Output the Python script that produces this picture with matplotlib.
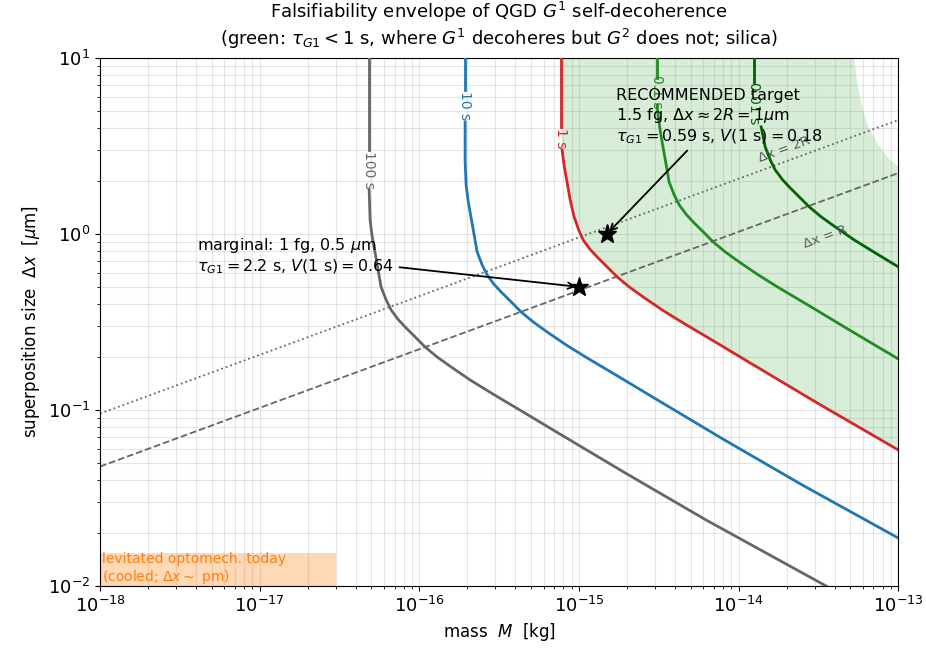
import numpy as np
import matplotlib.pyplot as plt

# tau_G1 contours: mass [kg], dx [um]
# first two points sit above the inline label, the rest below it
tau100_M = [4.85e-17, 4.85e-17, 4.85e-17, 4.92e-17, 5.06e-17, 5.29e-17, 5.52e-17, 5.76e-17,
            6.20e-17, 6.66e-17, 7.37e-17, 8.15e-17, 9.28e-17, 1.087e-16, 1.293e-16, 1.583e-16,
            2.082e-16, 2.82e-16, 4.47e-16, 7.41e-16, 1.949e-15, 6.27e-15, 3.54e-14]
tau100_dx = [10, 3.0, 1.778, 1.201, 0.974, 0.78, 0.624, 0.50, 0.4217, 0.37, 0.3266, 0.296,
             0.2633, 0.228, 0.2, 0.1755, 0.148, 0.1249, 0.0974, 0.074, 0.0439, 0.0237, 0.01]

tau10_M = [1.937e-16, 1.937e-16, 1.937e-16, 1.937e-16, 1.965e-16, 2.022e-16, 2.112e-16, 2.206e-16,
           2.303e-16, 2.475e-16, 2.66e-16, 2.944e-16, 3.255e-16, 3.709e-16, 4.343e-16, 5.17e-16,
           6.32e-16, 8.32e-16, 1.125e-15, 1.787e-15, 2.96e-15, 7.78e-15, 2.504e-14, 1e-13]
tau10_dx = [10, 6.58, 4.33, 2.565, 1.898, 1.54, 1.233, 0.987, 0.79, 0.667, 0.585, 0.516, 0.468,
            0.4163, 0.3605, 0.3162, 0.2774, 0.234, 0.1975, 0.154, 0.117, 0.0693, 0.0375, 0.01874]

tau1_M = [7.73e-16, 7.73e-16, 7.84e-16, 8.08e-16, 8.44e-16, 8.81e-16, 9.33e-16, 9.96e-16,
          1.062e-15, 1.176e-15, 1.30e-15, 1.481e-15, 1.735e-15, 2.064e-15, 2.525e-15, 3.32e-15,
          4.50e-15, 7.14e-15, 1.182e-14, 3.11e-14, 1e-13]
tau1_dx = [10, 4.055, 3.0, 2.434, 1.949, 1.56, 1.249, 1.054, 0.924, 0.816, 0.74, 0.658, 0.57,
           0.5, 0.4385, 0.37, 0.312, 0.2434, 0.185, 0.1096, 0.0593]

tau01_M = [3.09e-15, 3.09e-15, 3.09e-15, 3.13e-15, 3.23e-15, 3.37e-15, 3.52e-15, 3.67e-15,
           3.95e-15, 4.244e-15, 4.70e-15, 5.19e-15, 5.92e-15, 6.93e-15, 8.25e-15, 1.009e-14,
           1.327e-14, 1.796e-14, 2.85e-14, 4.72e-14, 1e-13]
tau01_dx = [10, 7.70, 5.41, 4.745, 3.85, 3.08, 2.466, 1.975, 1.666, 1.461, 1.291, 1.17, 1.04,
            0.901, 0.79, 0.693, 0.585, 0.493, 0.3847, 0.292, 0.195]

tau001_M = [1.253e-14, 1.253e-14, 1.385e-14, 1.468e-14, 1.578e-14, 1.696e-14, 1.877e-14, 2.075e-14,
            2.364e-14, 2.77e-14, 3.294e-14, 4.03e-14, 5.30e-14, 7.18e-14, 1e-13]
tau001_dx = [10, 7.31, 4.055, 3.12, 2.634, 2.31, 2.04, 1.849, 1.644, 1.424, 1.249, 1.096, 0.924,
             0.78, 0.65]

curves = [(tau100_M, tau100_dx), (tau10_M, tau10_dx), (tau1_M, tau1_dx),
          (tau01_M, tau01_dx), (tau001_M, tau001_dx)]
labels = ['100 s', '10 s', '1 s', '0.1 s', '0.01 s']
colors = ['0.4', 'tab:blue', 'tab:red', 'forestgreen', 'darkgreen']
label_dx = [2.31, 5.34, 3.51, 6.41, 5.5]

# where G^2 starts to decohere too (upper right edge of the green band)
g2_M = [5.30e-14, 5.53e-14, 5.95e-14, 6.49e-14, 7.38e-14, 8.53e-14, 1e-13]
g2_dx = [10, 7.21, 5.27, 4.055, 3.29, 2.74, 2.40]

# sphere radius lines (silica)
line_M = [1e-18, 1e-13]
R_dx = [0.0477, 2.214]
twoR_dx = [0.0954, 4.43]

# highlighted designs
marg_M, marg_dx = 1e-15, 0.5
rec_M, rec_dx = 1.5e-15, 1.0

fig, ax = plt.subplots(figsize=(9.26, 6.57), dpi=100)
fig.subplots_adjust(left=0.108, right=0.97, bottom=0.108, top=0.912)
ax.set_xscale('log')
ax.set_yscale('log')

# green band
ax.fill(tau1_M + g2_M[::-1], tau1_dx + g2_dx[::-1], color='tab:green', alpha=0.18, lw=0, zorder=1)

for (m, d), lab, c, ly in zip(curves, labels, colors, label_dx):
    ax.plot(m[:2], d[:2], color=c, lw=2, zorder=3)
    ax.plot(m[2:], d[2:], color=c, lw=2, zorder=3)
    ax.text(m[0], ly, lab, color=c, fontsize=10, rotation=-90, ha='center', va='center', zorder=3)

ax.plot(line_M, twoR_dx, ':', color='0.4', lw=1.3, zorder=2)
ax.plot(line_M, R_dx, '--', color='0.4', lw=1.3, zorder=2)
ax.text(1.93e-14, 3.0, 'Δx = 2R', color='0.35', fontsize=9.5, rotation=20, ha='center', va='center')
ax.text(3.49e-14, 0.96, 'Δx = R', color='0.35', fontsize=9.5, rotation=20, ha='center', va='center')

ax.plot([marg_M], [marg_dx], marker='*', color='k', ms=14, zorder=5)
ax.plot([rec_M], [rec_dx], marker='*', color='k', ms=14, zorder=5)

ax.annotate('marginal: 1 fg, 0.5 $\\mu$m\n$\\tau_{G1} = 2.2$ s, $V(1$ s$) = 0.64$',
            xy=(marg_M, marg_dx), xytext=(4.05e-18, 0.75), ha='left', va='center', fontsize=11.5,
            arrowprops=dict(arrowstyle='->', color='k', lw=1.3), zorder=6)
ax.annotate('RECOMMENDED target\n1.5 fg, $\\Delta x \\approx 2R = 1\\mu$m\n'
            '$\\tau_{G1} = 0.59$ s, $V(1$ s$) = 0.18$',
            xy=(rec_M, rec_dx), xytext=(1.71e-15, 4.62), ha='left', va='center', fontsize=11.5,
            arrowprops=dict(arrowstyle='->', color='k', lw=1.3), zorder=6)

# present-day levitated optomechanics
ax.fill_between([1e-18, 3e-17], 1e-2, 1.55e-2, color='tab:orange', alpha=0.3, lw=0, zorder=2)
ax.text(1.03e-18, 1.25e-2, 'levitated optomech. today\n(cooled; $\\Delta x \\sim$ pm)',
        color='tab:orange', fontsize=10, va='center', ha='left', zorder=3)

ax.set_xlim(1e-18, 1e-13)
ax.set_ylim(1e-2, 1e1)
ax.grid(True, which='both', color='0.8', lw=0.8, alpha=0.5, zorder=0)
ax.set_axisbelow(True)
ax.tick_params(labelsize=13)
ax.set_xlabel('mass  $M$  [kg]', fontsize=12)
ax.set_ylabel('superposition size  $\\Delta x$  [$\\mu$m]', fontsize=12)
ax.set_title('Falsifiability envelope of QGD $G^1$ self-decoherence\n'
             '(green: $\\tau_{G1} < 1$ s, where $G^1$ decoheres but $G^2$ does not; silica)',
             fontsize=13, pad=9)

fig.savefig('out.png', dpi=100)
